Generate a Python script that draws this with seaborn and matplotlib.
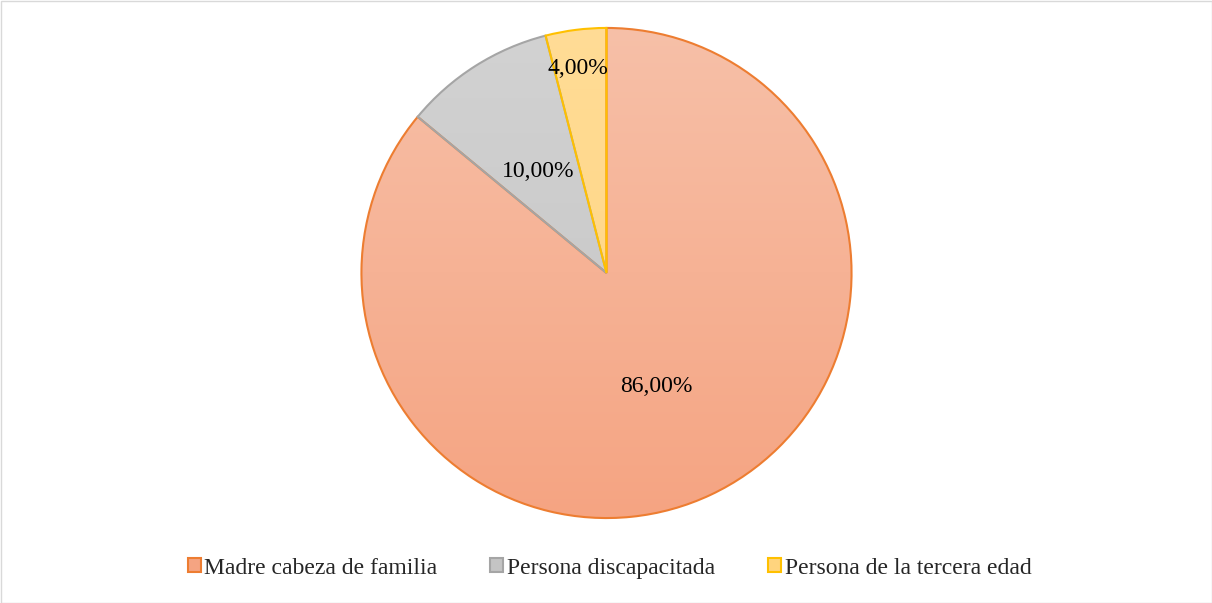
import numpy as np
import matplotlib
matplotlib.use('Agg')
import matplotlib.pyplot as plt
import seaborn as sns
from matplotlib.patches import Patch, Rectangle
from matplotlib.colors import LinearSegmentedColormap

categories = ['Madre cabeza de familia', 'Persona discapacitada', 'Persona de la tercera edad']
values = [86.0, 10.0, 4.0]
labels = ['86,00%', '10,00%', '4,00%']

fills_top = ['#F7C0A8', '#D2D2D2', '#FFDC96']
fills_bottom = ['#F5A482', '#C4C4C4', '#FFD47E']
edges = ['#ED7D31', '#A5A5A5', '#FFC000']

sns.set_theme(style='white')
plt.rcParams['font.family'] = ['Liberation Serif', 'DejaVu Serif']

W, H = 1212, 603
fig = plt.figure(figsize=(W / 100, H / 100), dpi=100)
cx, cy, r = 606.5, 273, 247.5
ax = fig.add_axes([(cx - r) / W, (H - cy - r) / H, 2 * r / W, 2 * r / H])

wedges, _ = ax.pie(values, startangle=90, counterclock=False, radius=1,
                   colors=fills_bottom,
                   wedgeprops=dict(edgecolor='none', linewidth=0))

# vertical gradient fill, clipped to each wedge
grad = np.linspace(0, 1, 256).reshape(-1, 1)
for w, top, bot, ec in zip(wedges, fills_top, fills_bottom, edges):
    cmap = LinearSegmentedColormap.from_list('g', [top, bot])
    im = ax.imshow(grad, cmap=cmap, extent=(-1, 1, -1, 1), origin='upper',
                   aspect='auto', zorder=1)
    im.set_clip_path(w)
    w.set_facecolor('none')
    w.set_edgecolor(ec)
    w.set_linewidth(1.5)
    w.set_zorder(2)

# labels at wedge midpoints
dists = [0.5, 0.5, 0.85]
for w, lab, d in zip(wedges, labels, dists):
    ang = np.deg2rad((w.theta1 + w.theta2) / 2)
    ax.text(d * np.cos(ang) - 0.01, d * np.sin(ang) - 0.01, lab, ha='center', va='center',
            fontsize=17, color='black', zorder=3)

ax.set_xlim(-1.01, 1.01)
ax.set_ylim(-1.01, 1.01)
ax.axis('off')

handles = [Patch(facecolor=t, edgecolor=e, linewidth=1.5)
           for t, e in zip(fills_bottom, edges)]
fig.legend(handles, categories, loc='center', bbox_to_anchor=(0.503, 0.058),
           ncol=3, frameon=False, fontsize=17, handlelength=0.55,
           handleheight=0.55, handletextpad=0.15, columnspacing=2.25)

fig.patches.append(Rectangle((0.5 / W, 0.5 / H), 1 - 1 / W, 1 - 1 / H,
                             transform=fig.transFigure, fill=False,
                             edgecolor='#D9D9D9', linewidth=1))

fig.savefig('out.png', dpi=100)
